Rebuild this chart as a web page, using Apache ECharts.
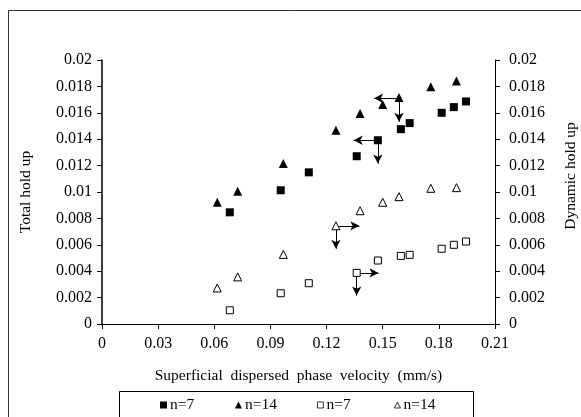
<!DOCTYPE html>
<html>
<head>
<meta charset="utf-8">
<script src="https://cdn.jsdelivr.net/npm/echarts@6/dist/echarts.min.js"></script>
<style>html,body{margin:0;padding:0;background:#fff}#c{width:581px;height:417px}</style>
</head>
<body>
<div id="c"></div>
<script>
// x values (superficial dispersed phase velocity, mm/s)
var xN7 = [0.0683, 0.0955, 0.1105, 0.1361, 0.1474, 0.1597, 0.1644, 0.1815, 0.188, 0.1945];
var xN14 = [0.0616, 0.0725, 0.0969, 0.125, 0.1379, 0.15, 0.1587, 0.1757, 0.1894];
// total hold up
var totalN7 = [0.00846, 0.01013, 0.01149, 0.01271, 0.01392, 0.01476, 0.01522, 0.0160, 0.01643, 0.01686];
var totalN14 = [0.00922, 0.01005, 0.01215, 0.01468, 0.01595, 0.01663, 0.01716, 0.01797, 0.0184];
// dynamic hold up
var dynN7 = [0.00104, 0.00233, 0.00309, 0.00387, 0.00481, 0.00516, 0.00524, 0.0057, 0.006, 0.00625];
var dynN14 = [0.00273, 0.00357, 0.00527, 0.00744, 0.00858, 0.00922, 0.00965, 0.01028, 0.01033];
// annotation arrows: [fromX, fromY, toX, toY]
var arrows = [
  [0.1587, 0.0171, 0.1454, 0.0171],
  [0.1587, 0.0171, 0.1587, 0.01532],
  [0.1474, 0.01392, 0.1345, 0.01392],
  [0.1474, 0.01392, 0.1474, 0.01215],
  [0.125, 0.00744, 0.1375, 0.00744],
  [0.125, 0.00744, 0.125, 0.0057],
  [0.1361, 0.00387, 0.1478, 0.00387],
  [0.1361, 0.00387, 0.1361, 0.00215]
];
var xTicks = {min: 0, max: 0.21, interval: 0.03};
var yTicks = {min: 0, max: 0.02, interval: 0.002};
var legendNames = ['Total n=7', 'Total n=14', 'Dynamic n=7', 'Dynamic n=14'];

function zip(a, b) { return a.map(function (v, i) { return [v, b[i]]; }); }
var FONT = "'Liberation Serif','Times New Roman',serif";
function fmt(v) { return String(+v.toFixed(4)); }

var chart = echarts.init(document.getElementById('c'));
var legendLefts = [160, 235, 317, 394];
var legendIcon = [7, 7, 6, 6];
var legendItemStyles = [
  {color: '#000', borderWidth: 0},
  {color: '#000', borderWidth: 0},
  {color: '#fff', borderColor: '#000', borderWidth: 0.8},
  {color: '#fff', borderColor: '#000', borderWidth: 0.8}
];
var legends = legendNames.map(function (n, i) {
  return {
    data: [n], left: legendLefts[i], top: 397, padding: 0,
    itemWidth: legendIcon[i], itemHeight: legendIcon[i], itemGap: 0, selectedMode: false,
    itemStyle: legendItemStyles[i],
    textStyle: {fontFamily: FONT, fontSize: 15.5, color: '#000', padding: [0, 0, 0, -2]},
    formatter: function (name) { return name.split(' ')[1]; }
  };
});

var tickLabelStyle = {fontFamily: FONT, fontSize: 16, color: '#000', formatter: fmt};

chart.setOption({
  animation: false,
  backgroundColor: '#fff',
  textStyle: {fontFamily: FONT},
  graphic: [
    {type: 'rect', shape: {x: 8.5, y: 10.5, width: 640, height: 460}, style: {fill: 'none', stroke: '#333', lineWidth: 1}, z: 0},
    {type: 'rect', shape: {x: 119.5, y: 391.5, width: 354, height: 60}, style: {fill: '#fff', stroke: '#000', lineWidth: 1}, z: 1}
  ],
  legend: legends,
  grid: {left: 102, right: 86, top: 60, bottom: 93, containLabel: false, outerBoundsMode: 'none'},
  xAxis: {
    type: 'value', min: xTicks.min, max: xTicks.max, interval: xTicks.interval,
    name: 'Superficial  dispersed  phase  velocity  (mm/s)', nameLocation: 'middle', nameGap: 44,
    nameTextStyle: {fontFamily: FONT, fontSize: 15.5, color: '#000'},
    axisLine: {lineStyle: {color: '#000', width: 1}},
    axisTick: {show: true, length: 5, lineStyle: {color: '#000'}},
    axisLabel: {fontFamily: FONT, fontSize: 16, color: '#000', margin: 12, formatter: fmt},
    splitLine: {show: false}
  },
  yAxis: [
    {
      type: 'value', position: 'left', min: yTicks.min, max: yTicks.max, interval: yTicks.interval,
      name: 'Total hold up', nameLocation: 'middle', nameGap: 68, nameRotate: 90,
      nameTextStyle: {fontFamily: FONT, fontSize: 15.5, color: '#000'},
      axisLine: {show: true, lineStyle: {color: '#000', width: 1.5}},
      axisTick: {show: true, length: 5, lineStyle: {color: '#000'}},
      axisLabel: Object.assign({margin: 10}, tickLabelStyle),
      splitLine: {show: false}
    },
    {
      type: 'value', position: 'right', min: yTicks.min, max: yTicks.max, interval: yTicks.interval,
      name: 'Dynamic hold up', nameLocation: 'middle', nameGap: 68, nameRotate: 90,
      nameTextStyle: {fontFamily: FONT, fontSize: 15.5, color: '#000', padding: [0, 0, 0, 32]},
      axisLine: {show: true, lineStyle: {color: '#000', width: 1}},
      axisTick: {show: true, length: 5, lineStyle: {color: '#000'}},
      axisLabel: Object.assign({margin: 14}, tickLabelStyle),
      splitLine: {show: false}
    }
  ],
  series: [
    {name: legendNames[0], type: 'scatter', symbol: 'rect', symbolSize: 8, data: zip(xN7, totalN7),
      itemStyle: {color: '#000', opacity: 1}, z: 5},
    {name: legendNames[1], type: 'scatter', symbol: 'triangle', symbolSize: 9, data: zip(xN14, totalN14),
      itemStyle: {color: '#000', opacity: 1}, z: 5},
    {name: legendNames[2], type: 'scatter', symbol: 'rect', symbolSize: 7, data: zip(xN7, dynN7),
      itemStyle: {color: '#fff', borderColor: '#000', borderWidth: 1, opacity: 1}, z: 5},
    {name: legendNames[3], type: 'scatter', symbol: 'triangle', symbolSize: 8, data: zip(xN14, dynN14),
      itemStyle: {color: '#fff', borderColor: '#000', borderWidth: 1, opacity: 1}, z: 5},
    {name: 'arrows', type: 'scatter', data: [], silent: true, z: 6,
      markLine: {
        silent: true, animation: false,
        symbol: ['none', 'arrow'], symbolSize: [7, 9],
        label: {show: false},
        lineStyle: {color: '#000', width: 1, type: 'solid'},
        emphasis: {disabled: true},
        data: arrows.map(function (a) { return [{coord: [a[0], a[1]]}, {coord: [a[2], a[3]]}]; })
      }
    }
  ]
});
</script>
</body>
</html>
